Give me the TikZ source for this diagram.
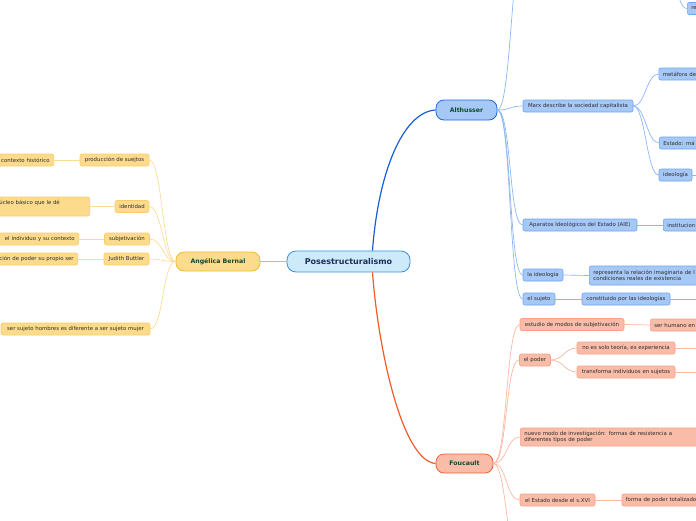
\documentclass[tikz,border=0pt]{standalone}
\usepackage{fontspec}
\setmainfont{DejaVu Sans}
\definecolor{yfill}{HTML}{FDDB8C}
\definecolor{ybord}{HTML}{F9CB6A}
\definecolor{yline}{HTML}{FDDC96}
\definecolor{bfill}{HTML}{A6C8F7}
\definecolor{bbord}{HTML}{6FA3EE}
\definecolor{bline}{HTML}{8DB7F2}
\definecolor{rfill}{HTML}{F9BCA8}
\definecolor{rbord}{HTML}{F7A083}
\definecolor{rline}{HTML}{FBB8A2}
\definecolor{cfill}{HTML}{CDEAFB}
\definecolor{cbord}{HTML}{3D92DA}
\definecolor{ctext}{HTML}{1C2F5C}
\definecolor{maintxt}{HTML}{0F4A30}
\definecolor{leaftxt}{HTML}{2E2E2E}
\definecolor{blink}{HTML}{155FD3}
\definecolor{rlink}{HTML}{F25A2C}
\definecolor{ylink}{HTML}{F8B62A}
\definecolor{angbord}{HTML}{F5BA2E}
\definecolor{altbord}{HTML}{1E68D6}
\definecolor{foubord}{HTML}{EF6436}
\tikzset{
  leaf/.style={rounded corners=2pt, line width=0.6pt, font=\fontsize{5.4}{6.6}\selectfont, text=leaftxt, inner sep=0pt, minimum height=12pt},
  yleaf/.style={leaf, draw=ybord, fill=yfill},
  bleaf/.style={leaf, draw=bbord, fill=bfill},
  rleaf/.style={leaf, draw=rbord, fill=rfill},
  cutleft/.style={anchor=east, inner xsep=4pt, text width=#1, align=right},
  cutright/.style={anchor=west, inner xsep=4pt, text width=140pt, align=left},
  mainbox/.style={rounded corners=8pt, line width=0.8pt, font=\bfseries\fontsize{6.2}{7}\selectfont, text=maintxt, inner sep=0pt},
  yl/.style={draw=yline, line width=0.7pt},
  bl/.style={draw=bline, line width=0.7pt},
  rl/.style={draw=rline, line width=0.7pt},
  lbl/.style={font=\fontsize{5.4}{6.6}\selectfont, text=leaftxt, inner sep=0pt}
}
\begin{document}
\begin{tikzpicture}[x=1pt,y=-1pt]
\useasboundingbox (0,0) rectangle (696,520);
% main nodes
\node[draw=cbord, fill=cfill, rounded corners=9pt, line width=0.8pt, font=\bfseries\fontsize{8}{9}\selectfont, text=ctext, minimum width=123pt, minimum height=21pt, inner sep=0pt] (root) at (348.5,261.5) {Posestructuralismo};
\node[mainbox, draw=angbord, fill=yfill, minimum width=84pt, minimum height=19pt] (ang) at (218,261.5) {Angélica Bernal};
\node[mainbox, draw=altbord, fill=bfill, minimum width=61pt, minimum height=20pt] (alt) at (466.5,110) {Althusser};
\node[mainbox, draw=foubord, fill=rfill, minimum width=57pt, minimum height=19pt] (fou) at (464.5,463.5) {Foucault};

% Angelica branch
\node[yleaf, minimum width=69pt] (ps) at (114.5,160) {producción de suejtos};
\node[yleaf, minimum width=34pt] (ide) at (132,206.5) {identidad};
\node[yleaf, minimum width=45pt] (sub) at (127,239) {subjetivación};
\node[yleaf, minimum width=45pt] (jb) at (126.5,259) {Judith Buttler};
\node[yleaf, minimum width=149pt] (ssh) at (75.5,329) {ser sujeto hombres es diferente a ser sujeto mujer};
\node[yleaf, cutleft=66pt] (psc) at (54,160) {contexto histórico};
\node[yleaf, anchor=east, minimum width=150pt, minimum height=19pt] (idc) at (90,206.5) {};
\node[lbl, anchor=base east] (idct) at (60,204.8) {úcleo básico que le dé};
\node[yleaf, cutleft=90pt] (subc) at (79,239) {el individuo y su contexto};
\node[yleaf, cutleft=90pt] (jbc) at (78,259) {ción de poder su propio ser};

% Althusser branch
\node[bleaf, minimum width=110pt] (marx) at (578,106) {Marx describe la sociedad capitalista};
\node[bleaf, minimum width=114pt] (aie) at (580,225) {Aparatos Ideológicos del Estado (AIE)};
\node[bleaf, minimum width=40pt] (lid) at (543,275) {la ideología};
\node[bleaf, minimum width=32pt] (suj) at (539,299) {el sujeto};
\node[bleaf, minimum width=88pt] (cons) at (626,299) {constituido por las ideologías};
\node[bleaf, minimum width=33pt] (ideo) at (675.5,175) {ideología};
\node[bleaf, cutright] (met) at (658.5,74) {metáfora de};
\node[bleaf, cutright] (est) at (659,143) {Estado: má};
\node[bleaf, cutright] (ins) at (663,225) {institucion};
\node[bleaf, cutright, minimum height=19pt] (rep) at (589,275.5) {representa la relación imaginaria de l\\condiciones reales de existencia};
\node[bleaf, cutright] (re) at (687,8.5) {re};

% Foucault branch
\node[rleaf, minimum width=104pt] (emo) at (572,324.5) {estudio de modos de subjetivación};
\node[rleaf, minimum width=31pt] (pod) at (535,360) {el poder};
\node[rleaf, minimum width=98pt] (nes) at (626,348) {no es solo teoría, es experiencia};
\node[rleaf, minimum width=98pt] (tra) at (626,372) {transforma individuos en sujetos};
\node[rleaf, minimum width=75pt] (e16) at (557.5,500) {el Estado desde el s.XVI};
\node[rleaf, cutright] (shu) at (650,325) {ser humano en};
\node[rleaf, cutright, text width=190pt, minimum height=18pt] (nue) at (520,437) {nuevo modo de investigación: formas de resistencia a\\diferentes tipos de poder};
\node[rleaf, cutright] (fpt) at (621.5,500) {forma de poder totalizado};

% off-picture ends
\coordinate (altup) at (525,-60);
\coordinate (reup) at (665,-40);
\coordinate (foudown) at (522,580);
\coordinate (ideoR) at (720,175);
\coordinate (consR) at (720,299);
\coordinate (nesR) at (720,348);
\coordinate (traR) at (720,372);

% root connectors
\draw[ylink, line width=1.2pt] (root.west) -- (ang.east);
\draw[blink, line width=1.2pt] ([xshift=24pt]root.north) .. controls (378,175) and (402,112) .. (alt.west);
\draw[rlink, line width=1.2pt] ([xshift=24pt]root.south) .. controls (378,348) and (402,461) .. (fou.west);

% Angelica connectors
\foreach \c in {ps,ide,sub,jb,ssh}
  \draw[yl] (ang.west) .. controls +(-13,0) and +(13,0) .. (\c.east);
\draw[yl] (ps.west) -- (psc.east);
\draw[yl] (ide.west) -- (idc.east);
\draw[yl] (sub.west) -- (subc.east);
\draw[yl] (jb.west) -- (jbc.east);

% Althusser connectors
\foreach \c in {marx,aie,lid,suj}
  \draw[bl] (alt.east) .. controls +(14,0) and +(-14,0) .. (\c.west);
\draw[bl] (alt.east) .. controls +(14,0) and +(-14,0) .. (altup);
\draw[bl] (reup) .. controls +(12,0) and +(-12,0) .. (re.west);
\foreach \c in {met,est,ideo}
  \draw[bl] (marx.east) .. controls +(12,0) and +(-12,0) .. (\c.west);
\draw[bl] (aie.east) -- (ins.west);
\draw[bl] (lid.east) -- (rep.west);
\draw[bl] (suj.east) -- (cons.west);
\draw[bl] (cons.east) -- (consR);
\draw[bl] (ideo.east) -- (ideoR);

% Foucault connectors
\foreach \c in {emo,pod,nue,e16}
  \draw[rl] (fou.east) .. controls +(14,0) and +(-14,0) .. (\c.west);
\draw[rl] (fou.east) .. controls +(14,0) and +(-14,0) .. (foudown);
\draw[rl] (emo.east) -- (shu.west);
\draw[rl] (pod.east) .. controls +(12,0) and +(-12,0) .. (nes.west);
\draw[rl] (pod.east) .. controls +(12,0) and +(-12,0) .. (tra.west);
\draw[rl] (nes.east) -- (nesR);
\draw[rl] (tra.east) -- (traR);
\draw[rl] (e16.east) -- (fpt.west);
\end{tikzpicture}
\end{document}
